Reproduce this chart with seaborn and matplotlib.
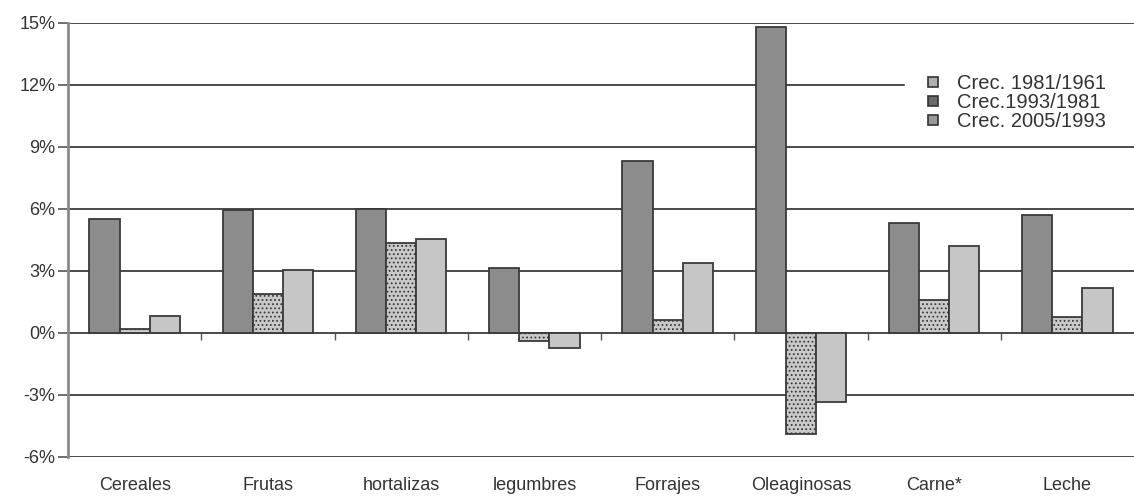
import numpy as np
import pandas as pd
import matplotlib
matplotlib.use("Agg")
import matplotlib.pyplot as plt
from matplotlib.lines import Line2D
from matplotlib.ticker import FuncFormatter, MultipleLocator
import seaborn as sns

# Annual growth rates by product group (%)
categories = ["Cereales", "Frutas", "hortalizas", "legumbres", "Forrajes",
              "Oleaginosas", "Carne*", "Leche"]
series_names = ["Crec. 1981/1961", "Crec.1993/1981", "Crec. 2005/1993"]
crec_1981_1961 = [5.5, 5.95, 6.0, 3.15, 8.3, 14.8, 5.3, 5.7]
crec_1993_1981 = [0.2, 1.9, 4.35, -0.4, 0.6, -4.9, 1.6, 0.75]
crec_2005_1993 = [0.8, 3.05, 4.55, -0.75, 3.4, -3.35, 4.2, 2.15]

df = pd.DataFrame({
    "categoria": categories * 3,
    "periodo": np.repeat(series_names, len(categories)),
    "valor": crec_1981_1961 + crec_1993_1981 + crec_2005_1993,
})

sns.set_style("white")
plt.rcParams["font.family"] = ["Liberation Sans", "DejaVu Sans"]
plt.rcParams["hatch.color"] = "#7a7a7a"
plt.rcParams["hatch.linewidth"] = 0.8

fig = plt.figure(figsize=(11.34, 4.96), dpi=100)
ax = fig.add_axes([0.06, 0.079, 0.94, 0.875])

face = ["#8c8c8c", "#c9c9c9", "#c6c6c6"]
palette = dict(zip(series_names, face))
sns.barplot(data=df, x="categoria", y="valor", hue="periodo", order=categories,
            hue_order=series_names, palette=palette, width=0.68, ax=ax,
            edgecolor="#3a3a3a", linewidth=1.3, saturation=1, legend=False,
            zorder=3)

# dotted texture on the middle series
n = len(categories)
for i, bar in enumerate(ax.patches[:3 * n]):
    if n <= i < 2 * n:
        bar.set_hatch("....")

ymin, ymax = -6, 15
ax.set_ylim(ymin, ymax)
ax.set_xlim(-0.5, n - 0.5)
ax.yaxis.set_major_locator(MultipleLocator(3))
ax.yaxis.set_major_formatter(FuncFormatter(lambda v, _: f"{v:.0f}%"))
ax.grid(axis="y", color="#4a4a4a", linewidth=1.4, zorder=1)
ax.set_axisbelow(True)

for side in ["top", "right", "bottom"]:
    ax.spines[side].set_visible(False)
ax.spines["left"].set_color("#8a8a8a")
ax.spines["left"].set_linewidth(2.0)

ax.tick_params(axis="y", left=True, length=7, width=1.2, color="#555555",
               labelsize=13, labelcolor="#333333", pad=2)
ax.tick_params(axis="x", bottom=False, labelsize=13, labelcolor="#333333",
               pad=11)
ax.set_xlabel("")
ax.set_ylabel("")

# category separators sitting on the zero line
zero_pos = (0 - ymin) / (ymax - ymin)
sec = ax.secondary_xaxis(zero_pos)
sec.set_xticks(np.arange(0.5, n - 0.5, 1.0))
sec.set_xticklabels([])
sec.tick_params(axis="x", length=5, width=1.0, color="#555555", direction="out")
sec.spines["bottom"].set_visible(False)

marker_faces = ["#b0b0b0", "#6a6a6a", "#999999"]
handles = [Line2D([], [], linestyle="none", marker="s", markersize=7,
                  markerfacecolor=c, markeredgecolor="#333333",
                  markeredgewidth=1.2) for c in marker_faces]
# white box spanning from the legend entries to the right edge
leg = ax.legend(handles, series_names, loc="upper left", mode="expand",
                bbox_to_anchor=(0.785, 0.75, 0.215, 0.155), frameon=True,
                fontsize=14.5, handlelength=1.8, handletextpad=0.3,
                labelspacing=0.0, borderpad=0.5, borderaxespad=0.0)
leg.get_frame().set_facecolor("white")
leg.get_frame().set_edgecolor("white")
leg.get_frame().set_alpha(1)
leg.set_zorder(5)
for t in leg.get_texts():
    t.set_color("#333333")

fig.savefig("out.png", dpi=100)
